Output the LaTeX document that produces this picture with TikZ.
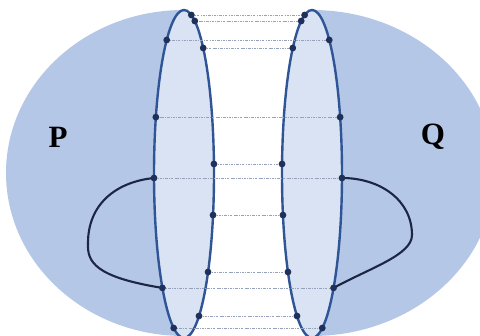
\documentclass[tikz,border=0pt]{standalone}
\usepackage{fontspec}
\setmainfont{Liberation Serif}
\usetikzlibrary{calc}
\definecolor{bigblue}{RGB}{180,199,231}
\definecolor{lightblue}{RGB}{218,227,243}
\definecolor{rimblue}{RGB}{47,85,151}
\definecolor{dotblue}{RGB}{31,48,90}
\definecolor{curvecol}{RGB}{28,38,68}
\definecolor{guide}{RGB}{150,162,188}
\begin{document}
\begin{tikzpicture}[x=1pt,y=-1pt,
  rim/.style={draw=rimblue,line width=2.4pt,fill=lightblue},
  guideline/.style={draw=guide,line width=0.7pt,dash pattern=on 2.5pt off 1.2pt on 0.7pt off 1.2pt},
  loopline/.style={draw=curvecol,line width=2.1pt},
  dotmark/.style={circle,fill=dotblue,inner sep=0pt,minimum size=6.8pt},
  setlabel/.style={font=\fontsize{31}{33}\selectfont\bfseries,text=black}]
\useasboundingbox (0,0) rectangle (480,336);
\coordinate (cL) at (184,174);
\coordinate (cR) at (312,174);
% big outer halves
\begin{scope}
\clip (0,0) rectangle (184,336);
\fill[bigblue] (184,173) ellipse[x radius=178,y radius=163];
\end{scope}
\begin{scope}
\clip (312,0) rectangle (480,336);
\fill[bigblue] (312,173) ellipse[x radius=183,y radius=163];
\end{scope}
% small ellipses
\path[rim] (cL) ellipse[x radius=30,y radius=164];
\path[rim] (cR) ellipse[x radius=30,y radius=164];
% points
\foreach \i/\a in {1/-75.8,2/-68.9,3/234.8,4/-50.2,5/200.3,6/-3.5,7/178.6,8/14.5,9/36.7,10/136,11/60,12/110.1}{
  \coordinate (L\i) at ($(cL)+(\a:30 and 164)$);
  \coordinate (R\i) at ($(cR)+(180-\a:30 and 164)$);
}
% guide lines
\foreach \i in {1,...,12}{
  \draw[guideline] (L\i) -- (R\i);
}
% loops
\draw[loopline] (L7) .. controls (115,182) and (88,205) .. (88,243)
  .. controls (87,262) and (95,277) .. (L10);
\draw[loopline] (R7) .. controls (380,178) and (412,200) .. (412,235)
  .. controls (412,255) and (370,268) .. (R10);
% dots
\foreach \i in {1,...,12}{
  \node[dotmark] (dL\i) at (L\i) {};
  \node[dotmark] (dR\i) at (R\i) {};
}
\node[setlabel] (P) at (58,137) {P};
\node[setlabel] (Q) at (433,137) {Q};
\end{tikzpicture}
\end{document}
